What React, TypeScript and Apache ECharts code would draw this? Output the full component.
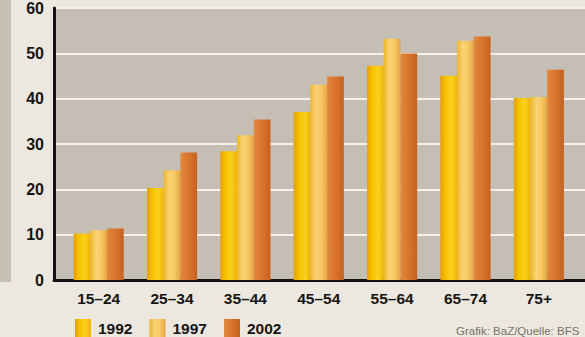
import React, { useEffect, useRef } from "react";
import * as echarts from "echarts";

const categories = ["15–24", "25–34", "35–44", "45–54", "55–64", "65–74", "75+"];
const years = ["1992", "1997", "2002"];
const values1992 = [10.2, 20.2, 28.3, 36.9, 47.1, 44.9, 40.0];
const values1997 = [10.9, 24.1, 31.8, 42.9, 53.0, 52.6, 40.2];
const values2002 = [11.3, 28.0, 35.3, 44.7, 49.8, 53.5, 46.2];
const yTicks = { min: 0, max: 60, interval: 10 };
const sourceText = "Grafik: BaZ/Quelle: BFS";

const FONT = "'Liberation Sans', Arial, Helvetica, sans-serif";

function grad(stops: string[]) {
  return new echarts.graphic.LinearGradient(
    0, 0, 1, 0,
    stops.map((c, i) => ({ offset: i / (stops.length - 1), color: c }))
  );
}

export default function App() {
  const ref = useRef<HTMLDivElement>(null);
  useEffect(() => {
    document.body.style.margin = "0";
    document.body.style.background = "#ece8df";
    if (!ref.current) return;
    const chart = echarts.init(ref.current, undefined, { renderer: "svg" });
    const colors = [
      grad(["#e3a000", "#f7c400", "#fad020", "#efb400"]),
      grad(["#f0b52c", "#f9d274", "#f6c862", "#e6a442"]),
      grad(["#e08a3c", "#dc7a32", "#d46e28", "#c4601e"]),
    ];
    const seriesData = [values1992, values1997, values2002];
    chart.setOption({
      animation: false,
      backgroundColor: "#ece8df",
      grid: [
        { left: 54, right: 0, top: 7, bottom: 57, show: true, backgroundColor: "#c5beb5", borderWidth: 0 },
        { left: 62, right: 9.5, top: 7, bottom: 57 },
      ],
      xAxis: [
        {
          gridIndex: 0, type: "value", min: 0, max: 1,
          axisLine: { show: true, lineStyle: { color: "#111", width: 3 } },
          axisTick: { show: false }, axisLabel: { show: false }, splitLine: { show: false },
        },
        {
          gridIndex: 1, type: "category", data: categories,
          axisLine: { show: false }, axisTick: { show: false },
          axisLabel: { color: "#151515", fontFamily: FONT, fontSize: 15.5, fontWeight: "bold", margin: 10 },
        },
      ],
      yAxis: [
        {
          gridIndex: 0, type: "value", ...yTicks,
          axisLine: { show: true, lineStyle: { color: "#111", width: 3 } },
          axisTick: { show: false },
          axisLabel: { color: "#151515", fontFamily: FONT, fontSize: 16, fontWeight: "bold", margin: 10 },
          splitLine: { show: true, lineStyle: { color: "#f4f1ea", width: 2 } },
        },
        {
          gridIndex: 1, type: "value", ...yTicks, show: false,
          splitLine: { show: false },
        },
      ],
      legend: {
        left: 75, top: 319, padding: 0, itemWidth: 16, itemHeight: 18, itemGap: 17,
        icon: "rect",
        data: years,
        textStyle: { color: "#151515", fontFamily: FONT, fontSize: 15.5, fontWeight: "bold", padding: [0, 0, 0, 2] },
      },
      graphic: [
        { type: "rect", shape: { x: 0, y: 0, width: 11, height: 282 }, style: { fill: "#c8c0b5" }, z: -10 },
        {
          type: "text", x: 456, y: 331,
          style: { text: sourceText, fill: "#76716b", font: `11.5px ${FONT}`, verticalAlign: "middle" },
        },
      ],
      series: years.map((y, i) => ({
        name: y, type: "bar", xAxisIndex: 1, yAxisIndex: 1,
        data: seriesData[i], barWidth: 16.7, barGap: "0%",
        itemStyle: { color: colors[i] },
      })),
    });
    return () => chart.dispose();
  }, []);
  return <div ref={ref} style={{ position: "absolute", left: 0, top: 0, width: 585, height: 337 }} />;
}
